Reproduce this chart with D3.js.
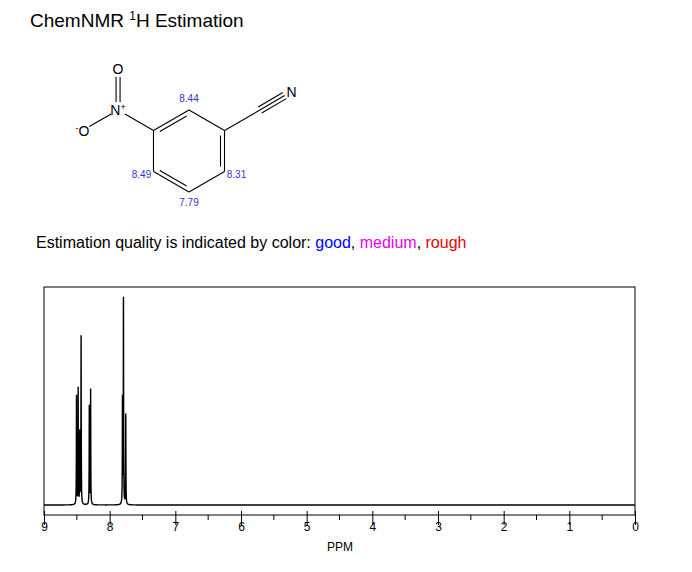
<!DOCTYPE html>
<html><head><meta charset="utf-8">
<script src="https://cdn.jsdelivr.net/npm/d3@7.9.0/dist/d3.min.js"></script>
<style>body{margin:0;background:#fff;font-family:Arial,"Liberation Sans",sans-serif}</style>
</head><body><svg id="c" width="692" height="572"></svg>
<script>
// peak lines: ppm and relative height
const peakPpm = [8.505, 8.48, 8.455, 8.435, 8.31, 8.29, 7.805, 7.79, 7.755];
const peakHeight = [0.53, 0.565, 0.35, 0.82, 0.48, 0.56, 0.51, 1.0, 0.44];
const ppmTicks = [9, 8, 7, 6, 5, 4, 3, 2, 1, 0];
const minorTicks = [8.5, 7.5, 6.5, 5.5, 4.5, 3.5, 2.5, 1.5, 0.5];
// molecule in structure units (ring bond = 1)
const atoms = [
  { id: 'c1', x: 0, y: -1 }, { id: 'c2', x: 0.866, y: -0.5 }, { id: 'c3', x: 0.866, y: 0.5 },
  { id: 'c4', x: 0, y: 1 }, { id: 'c5', x: -0.866, y: 0.5 }, { id: 'c6', x: -0.866, y: -0.5 },
  { id: 'N1', x: -1.73, y: -1, label: 'N', sup: '+' }, { id: 'O1', x: -1.73, y: -2, label: 'O' },
  { id: 'O2', x: -2.6, y: -0.5, label: 'O', pre: '-' },
  { id: 'cn', x: 1.73, y: -1 }, { id: 'N2', x: 2.5, y: -1.45, label: 'N' }
];
const bonds = [
  ['c1', 'c2', 1], ['c2', 'c3', 2], ['c3', 'c4', 1], ['c4', 'c5', 2], ['c5', 'c6', 1], ['c6', 'c1', 2],
  ['c6', 'N1', 1], ['N1', 'O1', 2], ['N1', 'O2', 1], ['c2', 'cn', 1], ['cn', 'N2', 3]
];
const shifts = [
  { at: 'c1', text: '8.44', dx: 0, dy: -8 }, { at: 'c5', text: '8.49', dx: -12, dy: 6 },
  { at: 'c3', text: '8.31', dx: 12, dy: 6 }, { at: 'c4', text: '7.79', dx: 0, dy: 14 }
];
const quality = [['good', '#0000ff'], ['medium', '#e600e6'], ['rough', '#e60000']];

const svg = d3.select('#c');
const t = svg.append('text').attr('x', 30).attr('y', 27).attr('font-size', 19);
t.append('tspan').text('ChemNMR ');
t.append('tspan').text('1').attr('font-size', 12).attr('dy', -7);
t.append('tspan').text('H Estimation').attr('dy', 7);

// molecule
const mx = d3.scaleLinear().domain([0, 1]).range([189, 189 + 41]);
const my = d3.scaleLinear().domain([0, 1]).range([151, 151 + 41]);
const byId = new Map(atoms.map(a => [a.id, a]));
const mol = svg.append('g').attr('stroke', '#000').attr('stroke-width', 1.1);
bonds.forEach(([a, b, order]) => {
  const A = byId.get(a), B = byId.get(b);
  let x1 = mx(A.x), y1 = my(A.y), x2 = mx(B.x), y2 = my(B.y);
  const L = Math.hypot(x2 - x1, y2 - y1), ux = (x2 - x1) / L, uy = (y2 - y1) / L;
  const sA = A.label ? 8 : 0, sB = B.label ? 8 : 0;
  x1 += ux * sA; y1 += uy * sA; x2 -= ux * sB; y2 -= uy * sB;
  const nx = -uy, ny = ux;
  const line = (o, sh) => mol.append('line').attr('x1', x1 + nx * o + ux * sh).attr('y1', y1 + ny * o + uy * sh)
    .attr('x2', x2 + nx * o - ux * sh).attr('y2', y2 + ny * o - uy * sh);
  if (a.startsWith('c') && b.startsWith('c') && a !== 'cn' && b !== 'cn') {
    line(0, 0);
    if (order === 2) {
      const mxp = (x1 + x2) / 2, myp = (y1 + y2) / 2;
      const s = ((mx(0) - mxp) * nx + (my(0) - myp) * ny) > 0 ? 1 : -1;
      line(4 * s, 5);
    }
  } else if (order === 1) line(0, 0);
  else if (order === 2) { line(-2, 0); line(2, 0); }
  else { line(0, 0); line(-3.5, 0); line(3.5, 0); }
});
atoms.filter(a => a.label).forEach(a => {
  const g = svg.append('text').attr('x', mx(a.x)).attr('y', my(a.y) + 5).attr('text-anchor', 'middle').attr('font-size', 14);
  if (a.pre) g.append('tspan').text(a.pre).attr('font-size', 9).attr('dy', -5);
  g.append('tspan').text(a.label).attr('dy', a.pre ? 5 : 0);
  if (a.sup) g.append('tspan').text(a.sup).attr('font-size', 9).attr('dy', -5);
});
shifts.forEach(s => {
  const a = byId.get(s.at);
  svg.append('text').attr('x', mx(a.x) + s.dx).attr('y', my(a.y) + s.dy).attr('text-anchor', 'middle')
    .attr('font-size', 10).attr('fill', '#3333cc').text(s.text);
});

// quality legend
const q = svg.append('text').attr('x', 36).attr('y', 248).attr('font-size', 16);
q.append('tspan').text('Estimation quality is indicated by color: ');
quality.forEach(([w, c], i) => {
  q.append('tspan').text(w).attr('fill', c);
  if (i < quality.length - 1) q.append('tspan').text(', ');
});

// spectrum
const x = d3.scaleLinear().domain([9, 0]).range([44, 635]);
const y = d3.scaleLinear().domain([0, 1]).range([505, 300]);
svg.append('rect').attr('x', 44).attr('y', 287).attr('width', 591).attr('height', 228)
  .attr('fill', 'none').attr('stroke', '#000');
const w = 0.0025;
const pts = [];
for (const p of d3.range(9, -0.0001, -0.0005)) {
  let v = 0;
  peakPpm.forEach((c, i) => { const d = (p - c) / w; v += peakHeight[i] / (1 + d * d); });
  pts.push([p, v]);
}
svg.append('path').datum(pts).attr('fill', 'none').attr('stroke', '#000').attr('stroke-width', 1.4)
  .attr('d', d3.line().x(d => x(d[0])).y(d => y(d[1])));
const ax = svg.append('g').attr('transform', 'translate(0,515)');
ax.call(d3.axisBottom(x).tickValues(ppmTicks).tickSize(10).tickFormat(d3.format('d')));
ax.selectAll('.tick').append('line').attr('y2', -4).attr('stroke', '#000');
ax.selectAll('.tick text').attr('y', 7).attr('font-size', 12).attr('font-family', 'Arial');
ax.select('.domain').remove();
ax.selectAll('.m').data(minorTicks).join('line').attr('x1', d => x(d)).attr('x2', d => x(d))
  .attr('y1', 0).attr('y2', 5).attr('stroke', '#000');
svg.append('text').attr('x', 340).attr('y', 551).attr('text-anchor', 'middle').attr('font-size', 12).text('PPM');
</script></body></html>
